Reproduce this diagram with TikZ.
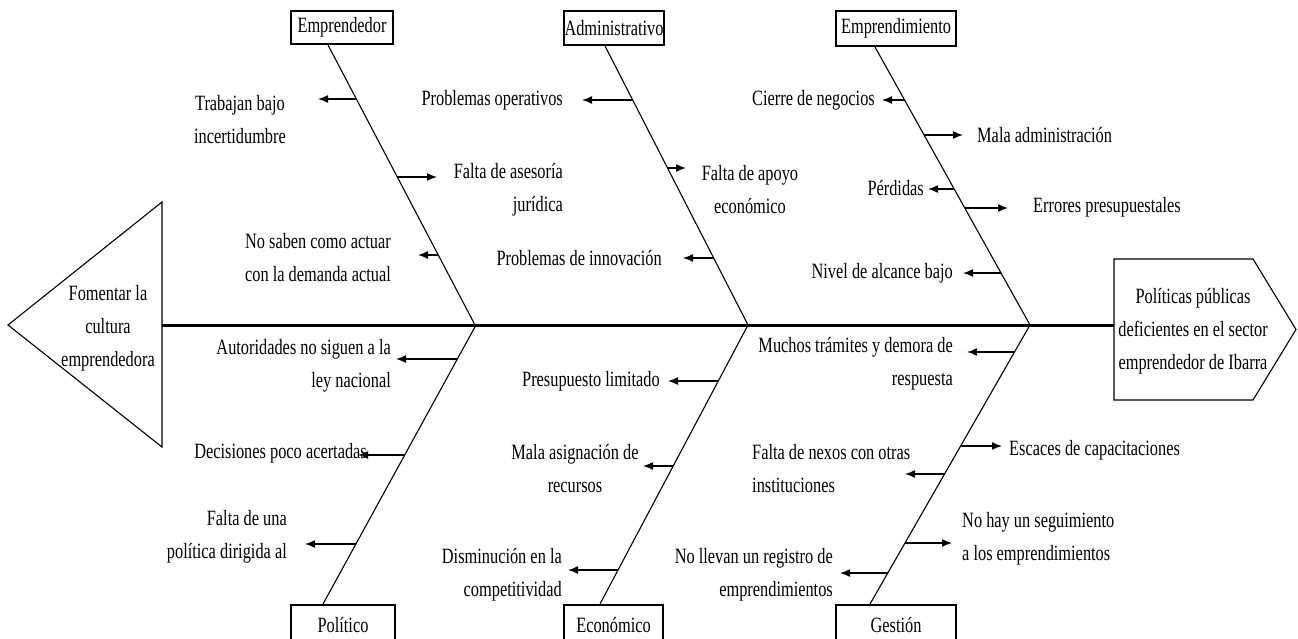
\documentclass[tikz,border=0pt]{standalone}
\usepackage{fontspec}
\setmainfont{Liberation Serif}[FakeStretch=0.75]
\usetikzlibrary{arrows.meta}
\begin{document}
\begin{tikzpicture}[x=1pt,y=-1pt,
  txt/.style={font=\fontsize{21.8}{33}\selectfont, inner sep=0pt},
  cat/.style={draw, line width=2pt, font=\fontsize{21.8}{25}\selectfont, inner sep=0pt},
  bone/.style={line width=1.1pt},
  sub/.style={line width=1.4pt, -{Latex[length=10pt,width=8pt]}},
  spine/.style={line width=3pt},
  outline/.style={line width=1.1pt}]
\clip (0,0) rectangle (1298,639);
\fill[white] (0,0) rectangle (1298,639);

% head and tail
\draw[outline] (8,325) -- (162,202) -- (162,447) -- cycle;
\draw[outline] (1114,259) -- (1253,259) -- (1296,329.5) -- (1253,400) -- (1114,400) -- cycle;
\node[txt, align=center] (tail) at (108,328) {Fomentar la\\cultura\\emprendedora};
\node[txt, align=center] (head) at (1193,331) {Políticas públicas\\deficientes en el sector\\emprendedor de Ibarra};

% spine
\coordinate (spL) at (162,325);
\coordinate (spR) at (1114,325);
\coordinate (j1) at (475,325);
\coordinate (j2) at (748,325);
\coordinate (j3) at (1030,325);
\coordinate (k1) at (476,325);
\draw[spine] (spL) -- (spR);

% category boxes
\node[cat, minimum width=102, minimum height=33] (c1) at (342,27.5) {Emprendedor};
\node[cat, minimum width=100, minimum height=34] (c2) at (614,28) {Administrativo};
\node[cat, minimum width=120, minimum height=35] (c3) at (896,28.5) {Emprendimiento};
\node[cat, minimum width=104, minimum height=44, anchor=north] (c4) at (343,604) {\raisebox{4pt}{Político}};
\node[cat, minimum width=99, minimum height=44, anchor=north] (c5) at (613.5,604) {\raisebox{4pt}{Económico}};
\node[cat, minimum width=120, minimum height=44, anchor=north] (c6) at (896,604) {\raisebox{4pt}{Gestión}};

% bones
\draw[bone] ([xshift=-14]c1.south) -- (j1);
\draw[bone] ([xshift=-9]c2.south) -- (j2);
\draw[bone] ([xshift=-21]c3.south) -- (j3);
\draw[bone] (k1) -- ([xshift=-20]c4.north);
\draw[bone] (j2) -- ([xshift=-13.5]c5.north);
\draw[bone] (j3) -- ([xshift=-26]c6.north);

% Emprendedor
\node[txt, align=center] (n1) at (240,120) {Trabajan bajo\\incertidumbre};
\node[txt, align=right, anchor=east] (n2) at (563,190) {Falta de asesoría\\jurídica};
\node[txt, align=right, anchor=east] (n3) at (391,258) {No saben como actuar\\con la demanda actual};
\draw[sub] (356.4,99) -- (318,99);
\draw[sub] (397.3,177) -- (437,177);
\draw[sub] (438.3,255) -- (418,255);

% Administrativo
\node[txt, anchor=east] (n4) at (563,100) {Problemas operativos};
\node[txt, align=center] (n5) at (750,190) {Falta de apoyo\\económico};
\node[txt, anchor=east] (n6) at (662,258) {Problemas de innovación};
\draw[sub] (632.7,100) -- (582,100);
\draw[sub] (667.5,168) -- (686,168);
\draw[sub] (713.7,258) -- (683,258);

% Emprendimiento
\node[txt, anchor=east] (n7) at (875,100) {Cierre de negocios};
\node[txt, anchor=west] (n8) at (977,135) {Mala administración};
\node[txt, anchor=east] (n9) at (924,188) {Pérdidas};
\node[txt, anchor=west] (n10) at (1033,207) {Errores presupuestales};
\node[txt, anchor=east] (n11) at (953,273) {Nivel de alcance bajo};
\draw[sub] (905,100) -- (882,100);
\draw[sub] (924.4,135) -- (963,135);
\draw[sub] (954.4,189) -- (928,189);
\draw[sub] (965,208) -- (1008,208);
\draw[sub] (1001,273) -- (963,273);

% Politico
\node[txt, align=right, anchor=east] (n12) at (391,366) {Autoridades no siguen a la\\ley nacional};
\node[txt, anchor=east] (n13) at (367,453) {Decisiones poco acertadas};
\node[txt, align=right, anchor=east] (n14) at (287,537) {Falta de una\\política dirigida al};
\draw[sub] (457.3,359) -- (396,359);
\draw[sub] (404.4,455) -- (358,455);
\draw[sub] (355.5,544) -- (305,544);

% Economico
\node[txt, anchor=east] (n15) at (660,381) {Presupuesto limitado};
\node[txt, align=center] (n16) at (575,469) {Mala asignación de\\recursos};
\node[txt, align=right, anchor=east] (n17) at (562,575) {Disminución en la\\competitividad};
\draw[sub] (718.3,381) -- (668,381);
\draw[sub] (673.2,466) -- (643,466);
\draw[sub] (618,570) -- (568,570);

% Gestion
\node[txt, align=right, anchor=east] (n18) at (953,364) {Muchos trámites y demora de\\respuesta};
\node[txt, anchor=west] (n19) at (1009,450) {Escaces de capacitaciones};
\node[txt, align=left, anchor=west] (n20) at (752,469) {Falta de nexos con otras\\instituciones};
\node[txt, align=left, anchor=west] (n21) at (962,539) {No hay un seguimiento\\a los emprendimientos};
\node[txt, align=right, anchor=east] (n22) at (833,575) {No llevan un registro de\\emprendimientos};
\draw[sub] (1014.5,352) -- (967,352);
\draw[sub] (960.6,446) -- (1002,446);
\draw[sub] (944.5,474) -- (905,474);
\draw[sub] (905,543) -- (952,543);
\draw[sub] (887.8,573) -- (840,573);
\end{tikzpicture}
\end{document}
